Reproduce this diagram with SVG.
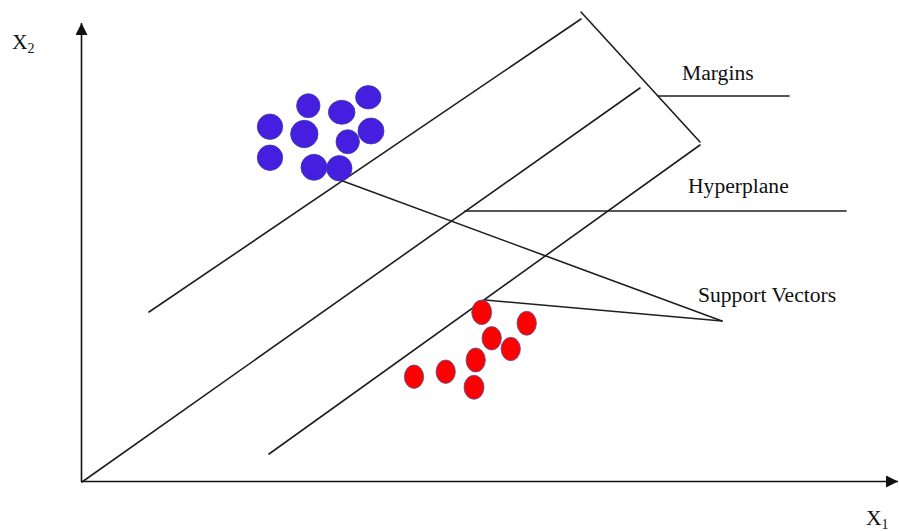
<svg xmlns="http://www.w3.org/2000/svg" width="899" height="531" viewBox="0 0 899 531">
  <style>
    .ln { stroke: #1e1e1e; stroke-width: 1.6; fill: none; stroke-linecap: round; }
    .axis { stroke: #111; stroke-width: 1.6; fill: none; }
    .lbl { font-family: "Liberation Serif", "Times New Roman", serif; font-size: 21.6px; fill: #111; }
    .sub { font-size: 14px; }
    .blue { fill: #451ee0; stroke: #3a3aa8; stroke-width: 0.8; }
    .red { fill: #ff0000; stroke: #4b5a9c; stroke-width: 0.8; }
  </style>
  <defs>
    <marker id="arrow" markerWidth="12" markerHeight="12" refX="10" refY="5" orient="auto" markerUnits="userSpaceOnUse" viewBox="0 0 10 10">
      <path d="M0,0 L10,5 L0,10 z" fill="#111"/>
    </marker>
  </defs>
  <rect width="899" height="531" fill="#ffffff"/>

  <!-- axes -->
  <g id="axes">
    <line class="axis" x1="81.5" y1="482" x2="81.5" y2="23" marker-end="url(#arrow)"/>
    <line class="axis" x1="81" y1="481.5" x2="898" y2="481.5" marker-end="url(#arrow)"/>
    <text class="lbl" x="12" y="49">X<tspan class="sub" dy="4">2</tspan></text>
    <text class="lbl" x="866" y="525">X<tspan class="sub" dy="4">1</tspan></text>
  </g>

  <!-- separating lines and callouts -->
  <g id="connectors">
    <line class="ln" x1="149" y1="312" x2="581" y2="19"/>
    <line class="ln" x1="82" y1="482" x2="640" y2="88"/>
    <line class="ln" x1="269" y1="454" x2="700" y2="145"/>
    <line class="ln" x1="581" y1="12" x2="700" y2="142"/>
    <line class="ln" x1="658" y1="96" x2="789" y2="96"/>
    <line class="ln" x1="465" y1="211" x2="846" y2="211"/>
    <line class="ln" x1="340" y1="180" x2="722" y2="321"/>
    <line class="ln" x1="485" y1="300" x2="722" y2="321"/>
  </g>

  <g id="label-margins"><text class="lbl" x="682" y="80">Margins</text></g>
  <g id="label-hyperplane"><text class="lbl" x="688" y="193">Hyperplane</text></g>
  <g id="label-support"><text class="lbl" x="698" y="302">Support Vectors</text></g>

  <!-- class A points -->
  <g id="class-blue">
    <ellipse class="blue" cx="308.3" cy="105.7" rx="11.7" ry="12"/>
    <ellipse class="blue" cx="341.7" cy="112.3" rx="13.3" ry="12"/>
    <ellipse class="blue" cx="368.3" cy="97.3" rx="12.7" ry="11.7"/>
    <ellipse class="blue" cx="270" cy="126.7" rx="12.7" ry="12.7"/>
    <ellipse class="blue" cx="304.3" cy="134" rx="13.7" ry="13.7"/>
    <ellipse class="blue" cx="347.7" cy="141.7" rx="11.7" ry="12"/>
    <ellipse class="blue" cx="371" cy="131" rx="13" ry="13"/>
    <ellipse class="blue" cx="270" cy="157.7" rx="12.7" ry="12.7"/>
    <ellipse class="blue" cx="314" cy="167.3" rx="13" ry="13"/>
    <ellipse class="blue" cx="339.3" cy="168.3" rx="12.7" ry="12.7"/>
  </g>

  <!-- class B points -->
  <g id="class-red">
    <ellipse class="red" cx="481.7" cy="312.3" rx="10" ry="12.3"/>
    <ellipse class="red" cx="526.7" cy="323.3" rx="9.7" ry="12"/>
    <ellipse class="red" cx="491.7" cy="338.3" rx="9.7" ry="11.7"/>
    <ellipse class="red" cx="510.7" cy="349" rx="9.7" ry="11.7"/>
    <ellipse class="red" cx="475.7" cy="360" rx="9.7" ry="12"/>
    <ellipse class="red" cx="414" cy="376.7" rx="9.7" ry="11.7"/>
    <ellipse class="red" cx="445.7" cy="371.7" rx="9.7" ry="11.7"/>
    <ellipse class="red" cx="474" cy="387.3" rx="10" ry="12"/>
  </g>
</svg>
